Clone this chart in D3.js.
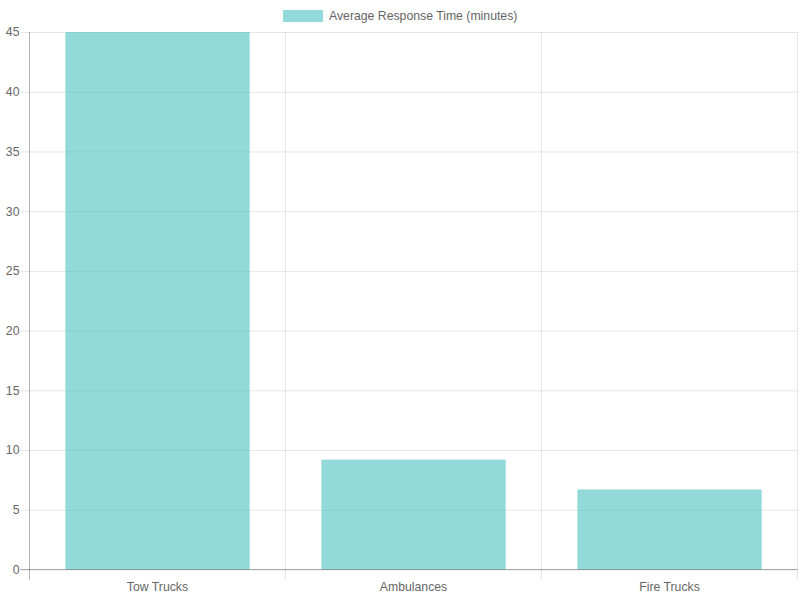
<!DOCTYPE html>
<html>
<head>
<meta charset="utf-8">
<script src="https://cdn.jsdelivr.net/npm/d3@7"></script>
<style>
  body { margin: 0; background: #fff; }
  text { font-family: "Liberation Sans", Arial, Helvetica, sans-serif; }
</style>
</head>
<body>
<svg id="chart" width="800" height="600"></svg>
<script>
// data
var categories = ["Tow Trucks", "Ambulances", "Fire Trucks"];
var responseTimes = [45, 9.2, 6.7];
var yTicks = [0, 5, 10, 15, 20, 25, 30, 35, 40, 45];
var seriesName = "Average Response Time (minutes)";

var svg = d3.select("#chart");

// plot area edges (note: "top" clashes with window.top)
var plotLeft = 29.5, plotRight = 797.5, plotTop = 32, plotBottom = 569.5;
var fontSize = "12.25px";

var x = d3.scaleBand()
    .domain(categories)
    .range([plotLeft, plotRight]);

var y = d3.scaleLinear()
    .domain([0, 45])
    .range([plotBottom, plotTop]);

var fill = "rgba(75,192,192,0.6)";
var gridColor = "rgba(0,0,0,0.1)";
var axisColor = "rgba(0,0,0,0.3)";

// horizontal grid + y ticks
var yAxis = d3.axisLeft(y)
    .tickValues(yTicks)
    .tickSize(-(plotRight - plotLeft))
    .tickPadding(3);

var gy = svg.append("g")
    .attr("transform", "translate(" + plotLeft + ",0)")
    .call(yAxis);
gy.select(".domain").remove();
gy.selectAll(".tick line")
    .attr("x1", -9)
    .attr("stroke", gridColor);
gy.selectAll(".tick text")
    .attr("x", -10)
    .attr("fill", "#666")
    .style("font-size", fontSize)
    .style("font-family", "'Liberation Sans', Arial, sans-serif");

// vertical grid lines at category edges
var edges = categories.map(function(c) { return x(c); }).concat([plotRight]);
svg.append("g").selectAll("line")
    .data(edges)
    .enter().append("line")
    .attr("x1", function(d) { return d; })
    .attr("x2", function(d) { return d; })
    .attr("y1", plotTop)
    .attr("y2", plotBottom + 10)
    .attr("stroke", function(d, i) { return i == 0 ? axisColor : gridColor; });

// bars
var barW = x.bandwidth() * 0.72;
svg.append("g").selectAll("rect")
    .data(categories)
    .enter().append("rect")
    .attr("x", function(d) { return x(d) + (x.bandwidth() - barW) / 2; })
    .attr("width", barW)
    .attr("y", function(d, i) { return y(responseTimes[i]); })
    .attr("height", function(d, i) { return plotBottom - y(responseTimes[i]); })
    .attr("fill", fill);

// zero line
svg.append("line")
    .attr("x1", plotLeft - 9)
    .attr("x2", plotRight)
    .attr("y1", y(0))
    .attr("y2", y(0))
    .attr("stroke", axisColor);

// x labels
svg.append("g").selectAll("text")
    .data(categories)
    .enter().append("text")
    .attr("x", function(d) { return x(d) + x.bandwidth() / 2; })
    .attr("y", 591)
    .attr("text-anchor", "middle")
    .attr("fill", "#666")
    .style("font-size", fontSize)
    .text(function(d) { return d; });

// legend
var legend = svg.append("g");
legend.append("rect")
    .attr("x", 283)
    .attr("y", 10)
    .attr("width", 40)
    .attr("height", 12)
    .attr("fill", fill);
legend.append("text")
    .attr("x", 329)
    .attr("y", 20)
    .attr("fill", "#666")
    .style("font-size", fontSize)
    .text(seriesName);
</script>
</body>
</html>
